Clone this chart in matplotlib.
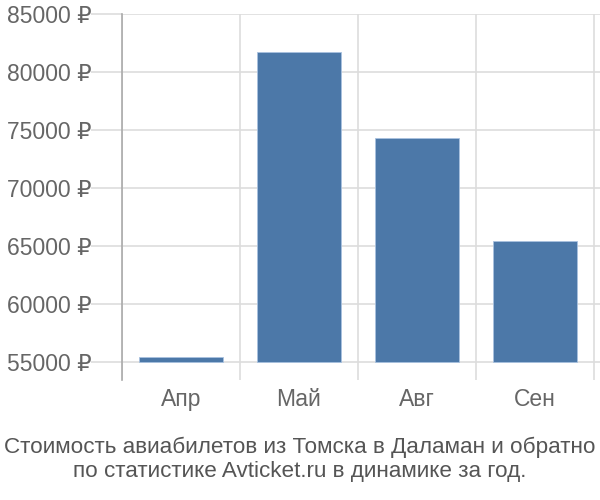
import matplotlib
matplotlib.use('Agg')
import matplotlib.pyplot as plt
from matplotlib.ticker import FixedLocator

plt.rcParams['font.family'] = ['Liberation Sans', 'DejaVu Sans']

# Monthly average ticket price, Tomsk - Dalaman
months = ['Апр', 'Май', 'Авг', 'Сен']
prices = [55430, 81720, 74310, 65430]
y_ticks = [55000, 60000, 65000, 70000, 75000, 80000, 85000]
base = 55000

fig = plt.figure(figsize=(6, 5), dpi=100)
ax = fig.add_axes([122 / 600, 1 - 380 / 500, 478 / 600, 366 / 500])

x = range(len(months))
ax.bar(x, [p - base for p in prices], bottom=base, width=0.72,
       color='#4c78a8', edgecolor='#a9c2e0', linewidth=0.6, zorder=3)

ax.set_xlim(-0.5, 3.5 + 6 / 118)
ax.set_ylim(53450, 85000)

ax.set_yticks(y_ticks)
ax.set_yticklabels([f'{v} ₽' for v in y_ticks])
ax.set_xticks(list(x))
ax.set_xticklabels(months)
ax.xaxis.set_minor_locator(FixedLocator([-0.5, 0.5, 1.5, 2.5, 3.5]))

ax.grid(axis='y', which='major', color='#dddddd', linewidth=1.2, zorder=0)
ax.grid(axis='x', which='minor', color='#dddddd', linewidth=1.2, zorder=0)

ax.tick_params(axis='y', length=22, color='#dddddd', width=1.2,
               labelsize=16.5, labelcolor='#666666', pad=0)
ax.tick_params(axis='x', which='major', length=0, labelsize=16.5,
               labelcolor='#666666', pad=6)
ax.tick_params(axis='x', which='minor', length=0)

for side in ['top', 'right', 'bottom']:
    ax.spines[side].set_visible(False)
ax.spines['left'].set_color('#aaaaaa')
ax.spines['left'].set_linewidth(1.2)

fig.text(0.5, 1 - 447 / 500, 'Стоимость авиабилетов из Томска в Даламан и обратно',
         ha='center', va='center', fontsize=16.2, color='#555555')
fig.text(0.5, 1 - 472 / 500, 'по статистике Avticket.ru в динамике за год.',
         ha='center', va='center', fontsize=16.2, color='#555555')

fig.savefig('out.png', dpi=100)
